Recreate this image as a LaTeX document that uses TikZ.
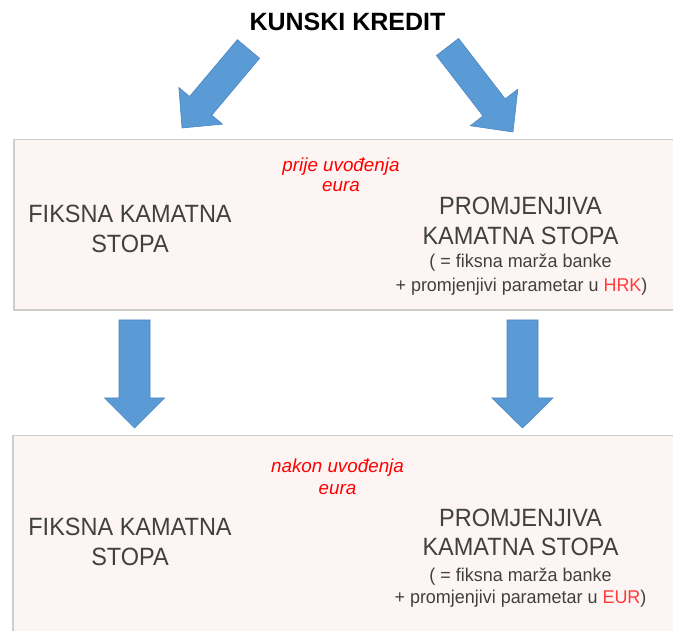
\documentclass[tikz,border=0pt]{standalone}
\usepackage{fontspec}
\setmainfont{Liberation Sans}
\newfontfamily\condfont[FakeStretch=0.94]{Liberation Sans}
\newfontfamily\semicondfont[FakeStretch=0.97]{Liberation Sans}
\usetikzlibrary{calc}
\definecolor{txtgray}{HTML}{404040}
\definecolor{redA}{HTML}{FF0000}
\definecolor{redB}{HTML}{FF3B3B}
\definecolor{panelfill}{HTML}{FDF5F3}
\definecolor{panelline}{HTML}{CDCDCD}
\definecolor{arrowblue}{HTML}{5B9BD5}
\definecolor{arrowline}{HTML}{4A86C0}
% block arrow: tail, tip, shaft half width, head half width, head length
\newcommand\blkarrow[5]{%
  \coordinate (#1-neck) at ($(#2)!#5!(#1)$);
  \filldraw[arrowshape] ($(#1)!#3!90:(#2)$) -- ($(#1-neck)!#3!90:(#2)$)
    -- ($(#1-neck)!#4!90:(#2)$) -- (#2) -- ($(#1-neck)!#4!-90:(#2)$)
    -- ($(#1-neck)!#3!-90:(#2)$) -- ($(#1)!#3!-90:(#2)$) -- cycle;}
\begin{document}
\begin{tikzpicture}[x=1pt,y=-1pt,
  titletxt/.style={anchor=base, inner sep=0pt, text=black, font=\fontsize{25}{30}\selectfont\bfseries},
  bigtxt/.style={anchor=base, inner sep=0pt, text=txtgray, font=\condfont\fontsize{25}{30}\selectfont},
  smalltxt/.style={anchor=base, inner sep=0pt, text=txtgray, font=\semicondfont\fontsize{18.5}{22}\selectfont},
  redtxt/.style={anchor=base, inner sep=0pt, text=redA, font=\fontsize{18.8}{21}\selectfont\itshape},
  panel/.style={fill=panelfill, draw=panelline, line width=1.2pt},
  arrowshape/.style={fill=arrowblue, draw=arrowline, line width=0.6pt, line join=miter}]
\useasboundingbox (0,0) rectangle (673,631);

% panels
\draw[panel] (14,139.5) rectangle (690,310);
\draw[panel] (13,435.5) rectangle (690,650);

% title
\node[titletxt] (title) at (347.5,31) {KUNSKI KREDIT};

% diagonal arrows
\coordinate (la-tail) at (248.5,49);
\coordinate (la-tip) at (182,128);
\blkarrow{la-tail}{la-tip}{14.5pt}{28.5pt}{29pt}
\coordinate (ra-tail) at (447.5,47);
\coordinate (ra-tip) at (513,132);
\blkarrow{ra-tail}{ra-tip}{14pt}{30pt}{31pt}

% vertical arrows
\coordinate (ld-tail) at (134.5,320);
\coordinate (ld-tip) at (134.5,428);
\blkarrow{ld-tail}{ld-tip}{15.5pt}{30pt}{30pt}
\coordinate (rd-tail) at (522.5,320);
\coordinate (rd-tip) at (522.5,428);
\blkarrow{rd-tail}{rd-tip}{15.5pt}{30.5pt}{30pt}

% upper panel texts
\node[redtxt] (pre1) at (341,172) {prije uvođenja};
\node[redtxt] (pre2) at (341,192) {eura};
\node[bigtxt] (fix1a) at (130,223) {FIKSNA KAMATNA};
\node[bigtxt] (fix1b) at (130,253) {STOPA};
\node[bigtxt] (var1a) at (520.5,215) {PROMJENJIVA};
\node[bigtxt] (var1b) at (520.5,245) {KAMATNA STOPA};
\node[smalltxt] (var1c) at (520.5,268) {( = fiksna marža banke};
\node[smalltxt] (var1d) at (521.5,292) {+ promjenjivi parametar u \textcolor{redB}{HRK})};

% lower panel texts
\node[redtxt] (post1) at (337.5,472) {nakon uvođenja};
\node[redtxt] (post2) at (337.5,494) {eura};
\node[bigtxt] (fix2a) at (130,535) {FIKSNA KAMATNA};
\node[bigtxt] (fix2b) at (130,565) {STOPA};
\node[bigtxt] (var2a) at (520.5,526) {PROMJENJIVA};
\node[bigtxt] (var2b) at (520.5,555) {KAMATNA STOPA};
\node[smalltxt] (var2c) at (520.5,581) {( = fiksna marža banke};
\node[smalltxt] (var2d) at (520.5,603) {+ promjenjivi parametar u \textcolor{redB}{EUR})};
\end{tikzpicture}
\end{document}
